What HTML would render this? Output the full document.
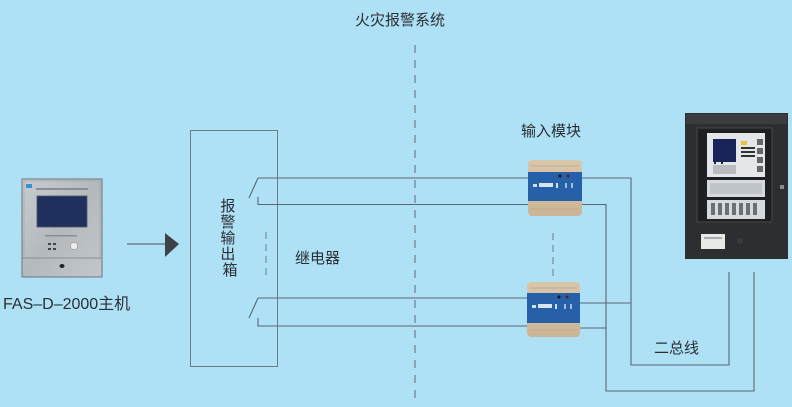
<!DOCTYPE html>
<html><head><meta charset="utf-8">
<style>
html,body{margin:0;padding:0;}
body{width:792px;height:407px;background:#aee0f6;overflow:hidden;}
svg{display:block;}
text{font-family:"Liberation Sans","Noto Sans CJK SC",sans-serif;fill:#2b2f33;}
</style></head><body>
<svg width="792" height="407" viewBox="0 0 792 407" xmlns="http://www.w3.org/2000/svg">
<defs>
<linearGradient id="metal" x1="0" y1="0" x2="1" y2="1">
<stop offset="0" stop-color="#c9cdd0"/><stop offset="0.5" stop-color="#b4b9bd"/><stop offset="1" stop-color="#c3c7ca"/>
</linearGradient>
<linearGradient id="tan" x1="0" y1="0" x2="0" y2="1">
<stop offset="0" stop-color="#d8c6ab"/><stop offset="1" stop-color="#cbb597"/>
</linearGradient>
</defs>
<rect width="792" height="407" fill="#aee0f6"/>

<!-- title -->
<text x="400" y="25" font-size="15" text-anchor="middle">火灾报警系统</text>

<!-- center dashed line -->
<line x1="415" y1="45" x2="415" y2="402" stroke="#5e6d7a" stroke-width="1" stroke-dasharray="8,7"/>

<!-- FAS device -->
<rect x="22" y="179" width="80" height="98" fill="url(#metal)" stroke="#6f757a" stroke-width="1"/>
<rect x="24" y="181" width="76" height="77" fill="none" stroke="#9aa0a4" stroke-width="0.6"/>
<line x1="22" y1="258" x2="102" y2="258" stroke="#8a9094" stroke-width="1"/>
<rect x="37" y="196" width="50" height="31" fill="#1f2f5e" stroke="#50585f" stroke-width="0.8"/>
<rect x="26" y="184" width="6" height="4" fill="#3a8fd0"/>
<rect x="36" y="188" width="52" height="2" fill="#8a8f93"/>
<rect x="45" y="235" width="32" height="1.5" fill="#8a8f93"/>
<rect x="48" y="243" width="3" height="2" fill="#444"/>
<rect x="53" y="243" width="3" height="2" fill="#444"/>
<rect x="48" y="248" width="3" height="2" fill="#444"/>
<rect x="53" y="248" width="3" height="2" fill="#444"/>
<circle cx="74" cy="246" r="3.5" fill="#eeeeee" stroke="#888" stroke-width="0.5"/>
<ellipse cx="62" cy="266" rx="2.5" ry="2" fill="#222"/>
<text x="3" y="309" font-size="16">FAS–D–2000主机</text>

<!-- arrow -->
<line x1="127" y1="244" x2="167" y2="244" stroke="#5e6d7a" stroke-width="1.2"/>
<polygon points="165,233 179,244 165,257" fill="#3e4246"/>

<!-- alarm output box -->
<rect x="190.5" y="130.5" width="87" height="236" fill="none" stroke="#6e7b86" stroke-width="1"/>
<text font-size="15" text-anchor="middle">
<tspan x="230" y="211">报</tspan>
<tspan x="230" y="227">警</tspan>
<tspan x="230" y="243">输</tspan>
<tspan x="230" y="259">出</tspan>
<tspan x="230" y="275">箱</tspan>
</text>
<line x1="266" y1="232" x2="266" y2="276" stroke="#6e7b86" stroke-width="1" stroke-dasharray="7,5"/>
<text x="295" y="263" font-size="15">继电器</text>

<!-- switches -->
<g stroke="#5a6672" stroke-width="1.1" fill="none">
<line x1="249" y1="198" x2="258" y2="178"/>
<polyline points="258,178 528,178"/>
<polyline points="258,197 258,204.5 528,204.5"/>
<line x1="249" y1="318" x2="258" y2="298"/>
<polyline points="258,298 528,298"/>
<polyline points="258,318 258,326 528,326"/>
<!-- right wiring -->
<polyline points="582,178 631,178 631,365 729,365 729,272"/>
<polyline points="582,204.5 606,204.5 606,391 754,391 754,272"/>
<polyline points="580,303 631,303"/>
<polyline points="580,328 606,328"/>
</g>

<!-- module dashed -->
<line x1="553" y1="233" x2="553" y2="276" stroke="#6e7b86" stroke-width="1" stroke-dasharray="7,5"/>

<text x="521" y="136" font-size="15">输入模块</text>

<!-- module 1 -->
<g>
<rect x="528" y="160" width="54" height="56" rx="4" fill="url(#tan)"/>
<rect x="528" y="172" width="54" height="29" fill="#2660a8"/>
<rect x="533" y="184" width="4" height="3" fill="#cfe0f0"/>
<rect x="539" y="183" width="14" height="4" fill="#d8e4f0"/>
<rect x="556" y="183" width="2" height="5" fill="#cfe0f0"/>
<rect x="565" y="183" width="2" height="5" fill="#9fbbe0"/>
<rect x="571" y="183" width="2" height="5" fill="#9fbbe0"/>
<circle cx="560" cy="176" r="1.5" fill="#111"/>
<circle cx="568" cy="176" r="1.5" fill="#6b1a1a"/>
<line x1="531" y1="166" x2="579" y2="166" stroke="#c2ab8c" stroke-width="1"/>
<line x1="531" y1="209" x2="579" y2="209" stroke="#c2ab8c" stroke-width="1"/>
</g>
<!-- module 2 -->
<g>
<rect x="527" y="282" width="53" height="55" rx="4" fill="url(#tan)"/>
<rect x="527" y="293" width="53" height="30" fill="#2660a8"/>
<rect x="532" y="305" width="4" height="3" fill="#cfe0f0"/>
<rect x="538" y="304" width="14" height="4" fill="#d8e4f0"/>
<rect x="555" y="304" width="2" height="5" fill="#cfe0f0"/>
<rect x="564" y="304" width="2" height="5" fill="#9fbbe0"/>
<rect x="570" y="304" width="2" height="5" fill="#9fbbe0"/>
<circle cx="559" cy="297" r="1.5" fill="#111"/>
<circle cx="567" cy="297" r="1.5" fill="#6b1a1a"/>
<line x1="530" y1="288" x2="577" y2="288" stroke="#c2ab8c" stroke-width="1"/>
<line x1="530" y1="330" x2="577" y2="330" stroke="#c2ab8c" stroke-width="1"/>
</g>

<text x="654" y="353" font-size="15">二总线</text>

<!-- fire alarm panel -->
<g>
<rect x="685" y="113" width="103" height="146" fill="#2c2e31"/>
<rect x="686" y="114" width="101" height="10" fill="#3a3c3f"/>
<rect x="697" y="128" width="75" height="94" fill="#1e2023" stroke="#45484b" stroke-width="1"/>
<rect x="707" y="133" width="58" height="44" fill="#e4e7ea"/>
<rect x="713" y="139" width="23" height="23" fill="#1a2458"/>
<rect x="713" y="165" width="23" height="9" fill="#b8bcc0"/>
<rect x="714" y="162" width="2" height="2" fill="#222"/>
<rect x="721" y="162" width="2" height="2" fill="#222"/>
<rect x="741" y="141" width="6" height="4" fill="#e8c23a"/>
<rect x="741" y="147" width="14" height="2" fill="#333"/>
<rect x="741" y="151" width="14" height="2" fill="#333"/>
<rect x="741" y="155" width="14" height="2" fill="#333"/>
<rect x="757" y="139" width="6" height="6" fill="#666"/>
<rect x="757" y="148" width="6" height="6" fill="#666"/>
<rect x="757" y="157" width="6" height="6" fill="#666"/>
<rect x="757" y="166" width="6" height="6" fill="#666"/>
<rect x="707" y="180" width="58" height="17" fill="#d5dadd"/>
<rect x="710" y="183" width="52" height="11" fill="#bfc5c8"/>
<rect x="707" y="200" width="58" height="19" fill="#d5dadd"/>
<g fill="#6a7075">
<rect x="711" y="203" width="4" height="12"/><rect x="718" y="203" width="4" height="12"/>
<rect x="725" y="203" width="4" height="12"/><rect x="732" y="203" width="4" height="12"/>
<rect x="739" y="203" width="4" height="12"/><rect x="746" y="203" width="4" height="12"/>
<rect x="753" y="203" width="4" height="12"/>
</g>
<rect x="701" y="234" width="24" height="15" fill="#e8e8e6"/>
<rect x="704" y="237" width="18" height="2" fill="#aaa"/>
<circle cx="740" cy="241" r="3" fill="#3a3c3f"/>
<rect x="780" y="185" width="4" height="4" fill="#8a8d90"/>
</g>
</svg>
</body></html>
